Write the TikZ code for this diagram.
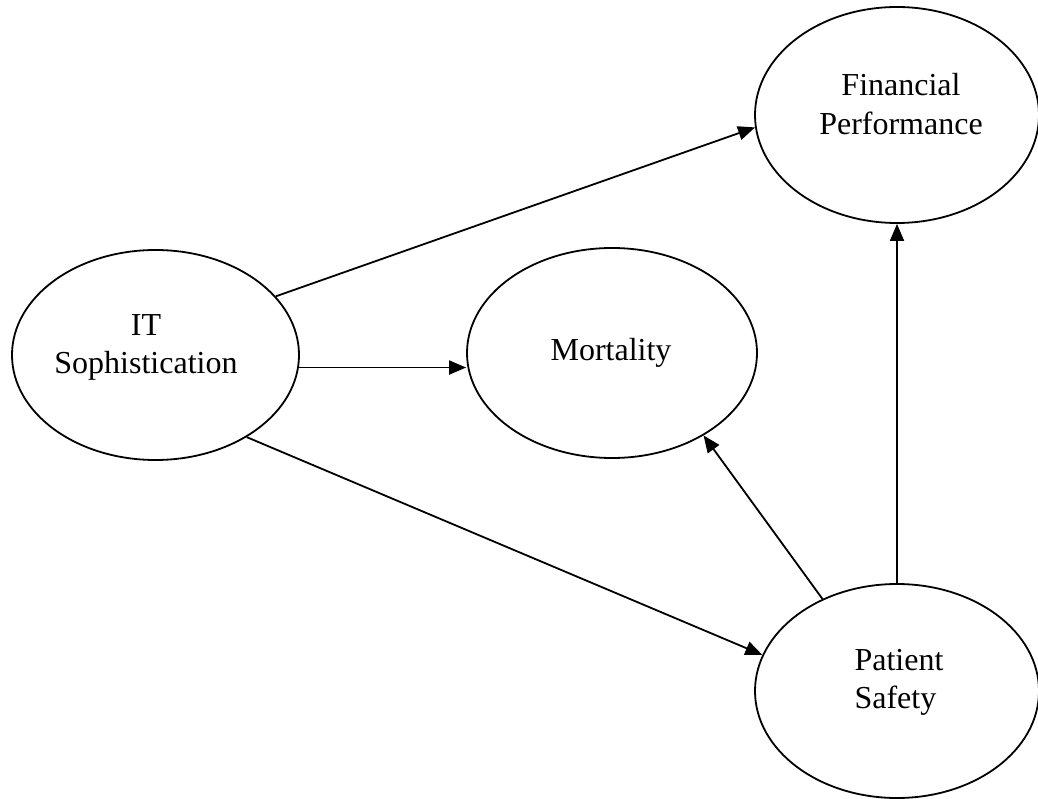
\documentclass[tikz,border=0pt]{standalone}
\usepackage{fontspec}
\setmainfont{Liberation Serif}
\usetikzlibrary{shapes.geometric,arrows.meta}
\begin{document}
\begin{tikzpicture}[x=1pt,y=-1pt,
  oval/.style={draw,ellipse,line width=1.8pt,inner sep=0pt},
  lbl/.style={font=\fontsize{32}{38.5}\selectfont,inner sep=0pt},
  arr/.style={line width=1.8pt,-{Triangle[length=17pt,width=14pt]}}]
\useasboundingbox (0,0) rectangle (1038,799);

% constructs
\node[oval,minimum width=287pt,minimum height=210pt] (it)   at (155.5,355) {};
\node[oval,minimum width=290pt,minimum height=210pt] (mort) at (612,353) {};
\node[oval,minimum width=284pt,minimum height=216pt] (fin)  at (897,115) {};
\node[oval,minimum width=284pt,minimum height=214pt] (ps)   at (897,691) {};

% labels
\node[lbl,align=center] (itlbl)   at (146,347.5) {IT\\Sophistication};
\node[lbl,align=center] (mortlbl) at (611,352.5) {Mortality};
\node[lbl,align=center] (finlbl)  at (901,104) {Financial\\Performance};
\node[lbl,align=left]   (pslbl)   at (899,682.5) {Patient\\Safety};

% paths
\draw[arr] (it.26) -- (fin.185);
\draw[arr] (it.-5) -- (it.-5 -| mort.west);
\draw[arr] (it.-42) -- (ps.165);
\draw[arr] (ps.129) -- (mort.-42.5);
\draw[arr] (ps.north) -- (ps.north |- fin.south);
\end{tikzpicture}
\end{document}
